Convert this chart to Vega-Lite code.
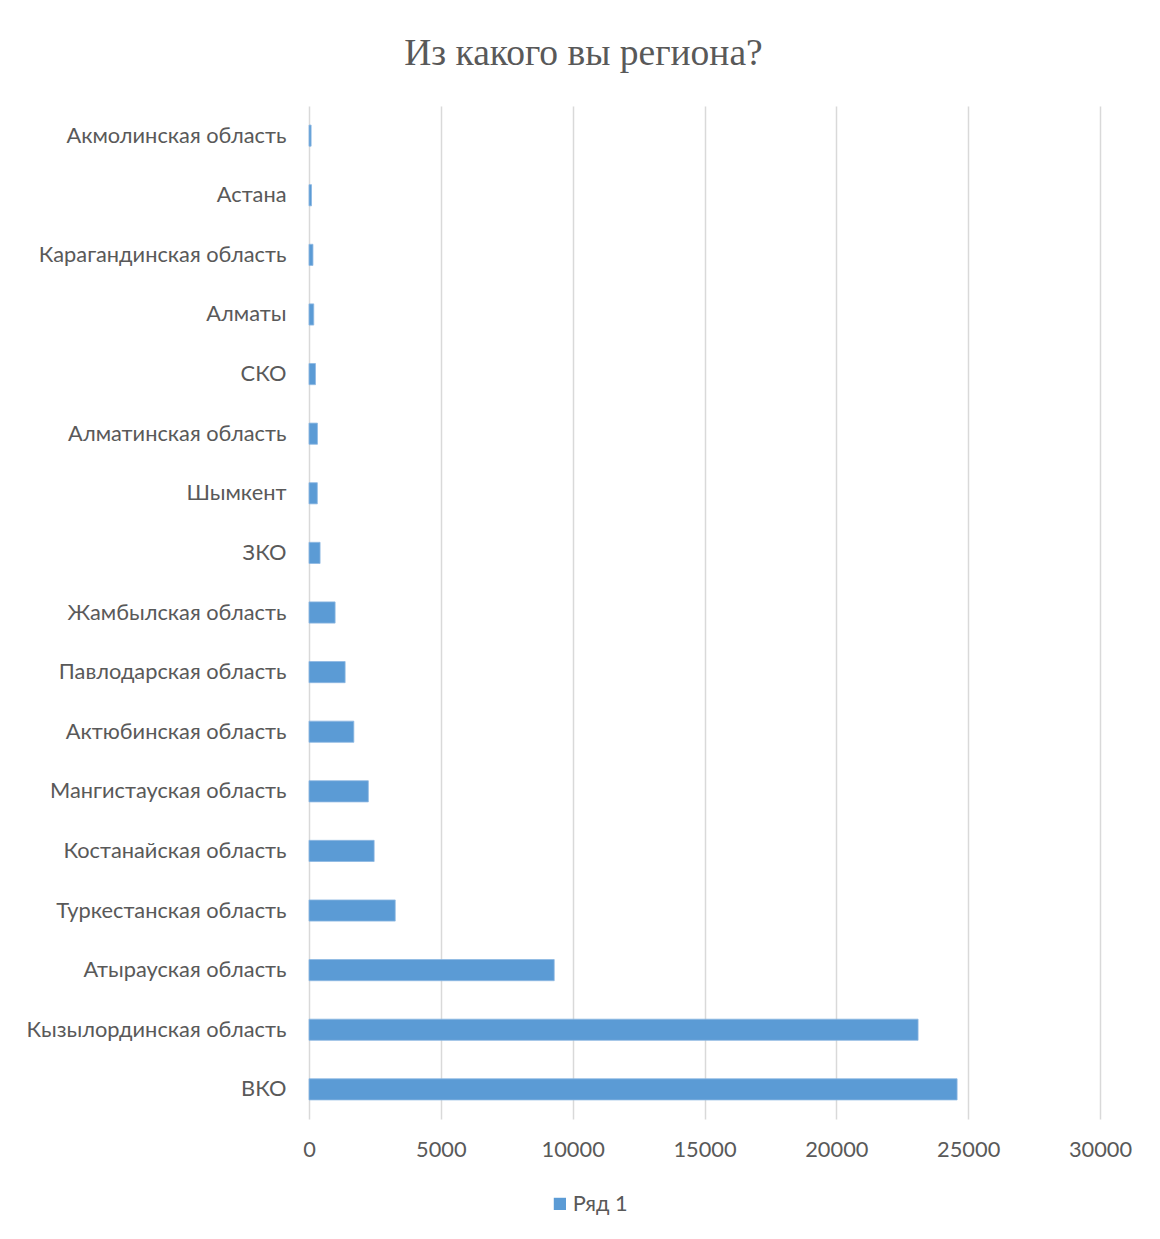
{
  "$schema": "https://vega.github.io/schema/vega-lite/v6.json",
  "width": 791,
  "height": 1013,
  "autosize": {"type": "none"},
  "padding": {"left": 309, "top": 106, "right": 60, "bottom": 120},
  "background": "white",
  "title": {
    "text": "Из какого вы региона?",
    "font": "Liberation Serif",
    "fontSize": 37.5,
    "fontWeight": "normal",
    "color": "#595959",
    "anchor": "middle",
    "dx": -121,
    "offset": 34
  },
  "data": {
    "values": [
      {"region": "Акмолинская область", "value": 80, "series": "Ряд 1"},
      {"region": "Астана", "value": 95, "series": "Ряд 1"},
      {"region": "Карагандинская область", "value": 150, "series": "Ряд 1"},
      {"region": "Алматы", "value": 180, "series": "Ряд 1"},
      {"region": "СКО", "value": 245, "series": "Ряд 1"},
      {"region": "Алматинская область", "value": 320, "series": "Ряд 1"},
      {"region": "Шымкент", "value": 315, "series": "Ряд 1"},
      {"region": "ЗКО", "value": 420, "series": "Ряд 1"},
      {"region": "Жамбылская область", "value": 990, "series": "Ряд 1"},
      {"region": "Павлодарская область", "value": 1370, "series": "Ряд 1"},
      {"region": "Актюбинская область", "value": 1700, "series": "Ряд 1"},
      {"region": "Мангистауская область", "value": 2250, "series": "Ряд 1"},
      {"region": "Костанайская область", "value": 2470, "series": "Ряд 1"},
      {"region": "Туркестанская область", "value": 3270, "series": "Ряд 1"},
      {"region": "Атырауская область", "value": 9300, "series": "Ряд 1"},
      {"region": "Кызылординская область", "value": 23100, "series": "Ряд 1"},
      {"region": "ВКО", "value": 24580, "series": "Ряд 1"}
    ]
  },
  "mark": {"type": "bar", "stroke": "#8db8e2", "strokeWidth": 0.8},
  "encoding": {
    "y": {
      "field": "region",
      "type": "nominal",
      "sort": null,
      "scale": {"paddingInner": 0.645, "paddingOuter": 0.32},
      "axis": {
        "title": null,
        "domain": false,
        "ticks": false,
        "labelFont": "Lato",
        "labelFontSize": 21.8,
        "labelColor": "#595959",
        "labelPadding": 23,
        "labelLimit": 400
      }
    },
    "x": {
      "field": "value",
      "type": "quantitative",
      "scale": {"domain": [0, 30000], "nice": false},
      "axis": {
        "title": null,
        "values": [0, 5000, 10000, 15000, 20000, 25000, 30000],
        "format": "d",
        "domain": false,
        "ticks": false,
        "grid": true,
        "gridColor": "#d9d9d9",
        "gridWidth": 1.5,
        "labelFont": "Lato",
        "labelFontSize": 21.8,
        "labelColor": "#595959",
        "labelPadding": 20,
        "labelFlush": false
      }
    },
    "color": {
      "field": "series",
      "type": "nominal",
      "scale": {"range": ["#5b9bd5"]},
      "legend": {
        "title": null,
        "orient": "none",
        "legendX": 240,
        "legendY": 1087,
        "symbolType": "square",
        "symbolSize": 150,
        "symbolStrokeWidth": 0,
        "labelFont": "Lato",
        "labelFontSize": 21.8,
        "labelColor": "#595959",
        "labelOffset": 2
      }
    }
  },
  "config": {"view": {"stroke": null}}
}
